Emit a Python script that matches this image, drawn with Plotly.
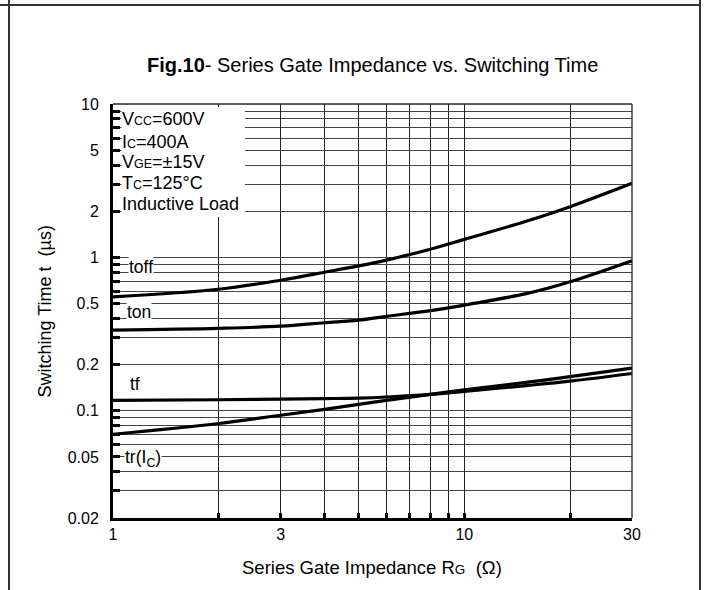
import math
import plotly.graph_objects as go

# ---- data ----
rg = [1, 2, 3, 4, 5, 6, 8, 10, 15, 20, 30]
t_off = [0.553, 0.62, 0.71, 0.80, 0.88, 0.96, 1.13, 1.31, 1.72, 2.14, 3.04]
t_on = [0.336, 0.345, 0.356, 0.375, 0.39, 0.413, 0.45, 0.489, 0.58, 0.693, 0.95]
t_f = [0.117, 0.118, 0.119, 0.120, 0.121, 0.123, 0.128, 0.134, 0.146, 0.156, 0.175]
t_r = [0.0703, 0.0826, 0.0935, 0.102, 0.110, 0.117, 0.128, 0.137, 0.153, 0.167, 0.190]

x_tickvals = [1, 3, 10, 30]
x_ticktext = ["1", "3", "10", "30"]
x_minor = [2, 4, 5, 6, 7, 8, 9, 20]
y_tickvals = [0.02, 0.05, 0.1, 0.2, 0.5, 1, 2, 5, 10]
y_ticktext = ["0.02", "0.05", "0.1", "0.2", "0.5", "1", "2", "5", "10"]
y_minor = [0.03, 0.04, 0.06, 0.07, 0.08, 0.09, 0.3, 0.4, 0.6, 0.7, 0.8, 0.9,
           3, 4, 6, 7, 8, 9]

conditions = [
    "V<span style='font-size:12.5px'>CC</span>=600V",
    "I<span style='font-size:12.5px'>C</span>=400A",
    "V<span style='font-size:12.5px'>GE</span>=±15V",
    "T<span style='font-size:12.5px'>C</span>=125°C",
    "Inductive Load",
]

FONT = "Arial, 'Liberation Sans', sans-serif"

# plot area geometry in pixels
L, R, T, B = 113, 632, 104, 518
W, H = R - L, B - T


def px(x):
    return (x - L) / W


def py(y):
    return (B - y) / H


fig = go.Figure()
for ys in (t_off, t_on, t_f, t_r):
    fig.add_trace(go.Scatter(x=rg, y=ys, mode="lines",
                             line=dict(color="black", width=3.2, shape="spline", smoothing=1.0),
                             showlegend=False, hoverinfo="skip"))

fig.update_layout(
    width=705, height=590,
    margin=dict(l=L, r=705 - R, t=T, b=590 - B),
    paper_bgcolor="white", plot_bgcolor="white",
    font=dict(family=FONT, color="black", size=16),
    showlegend=False,
)

fig.update_xaxes(
    type="log", range=[0, math.log10(30)],
    tickmode="array", tickvals=x_tickvals, ticktext=x_ticktext,
    ticks="inside", ticklen=5, tickwidth=2.5, tickcolor="black",
    minor=dict(tickmode="array", tickvals=x_minor, ticks="inside", ticklen=5,
               tickwidth=2.5, tickcolor="black", showgrid=True,
               gridcolor="#222", gridwidth=1.3),
    showline=True, linewidth=3, linecolor="black",
    showgrid=True, gridcolor="#222", gridwidth=1.3,
    zeroline=False, tickfont=dict(size=16),
    ticklabelstandoff=0,
)
fig.update_yaxes(
    type="log", range=[math.log10(0.02), 1],
    tickmode="array", tickvals=y_tickvals, ticktext=y_ticktext,
    ticks="inside", ticklen=7, tickwidth=2.5, tickcolor="black",
    minor=dict(tickmode="array", tickvals=y_minor, ticks="inside", ticklen=7,
               tickwidth=2.5, tickcolor="black", showgrid=True,
               gridcolor="#444", gridwidth=1.3),
    showline=True, linewidth=3, linecolor="black",
    showgrid=True, gridcolor="#444", gridwidth=1.3,
    zeroline=False, tickfont=dict(size=16),
    ticklabelstandoff=8,
)

shapes = [
    # top & right borders of plot area
    dict(type="line", xref="paper", yref="paper", x0=0, x1=1, y0=1, y1=1,
         line=dict(color="#222", width=1.3)),
    dict(type="line", xref="paper", yref="paper", x0=1, x1=1, y0=0, y1=1,
         line=dict(color="#222", width=1.3)),
    # white box behind the conditions text (hides the grid there)
    dict(type="rect", xref="paper", yref="paper", layer="above",
         x0=px(121.5), x1=px(245), y0=py(217), y1=py(107),
         fillcolor="white", line=dict(width=0)),
    # outer frame
    dict(type="line", xref="paper", yref="paper", x0=px(9), x1=px(9), y0=py(0), y1=py(590),
         line=dict(color="#333", width=2)),
    dict(type="line", xref="paper", yref="paper", x0=px(700), x1=px(700), y0=py(0), y1=py(590),
         line=dict(color="#333", width=2)),
    dict(type="line", xref="paper", yref="paper", x0=px(0), x1=px(700), y0=py(5), y1=py(5),
         line=dict(color="#333", width=2)),
]
fig.update_layout(shapes=shapes)

ann = []
cond_y = [119.3, 141.7, 161.7, 183.3, 204.3]
for txt, yy in zip(conditions, cond_y):
    ann.append(dict(text=txt, xref="paper", yref="paper", x=px(120), y=py(yy),
                    xanchor="left", yanchor="middle", showarrow=False,
                    font=dict(size=18, family=FONT)))

labels = [("toff", 128, 266.7), ("ton", 126, 312), ("tf", 129, 384),
          ("tr(I<sub>C</sub>)", 124, 458)]
for txt, xx, yy in labels:
    ann.append(dict(text=txt, xref="paper", yref="paper", x=px(xx), y=py(yy),
                    xanchor="left", yanchor="middle", showarrow=False,
                    bgcolor="white", borderpad=0,
                    font=dict(size=17.5, family=FONT)))

ann.append(dict(text="<b>Fig.10</b>- Series Gate Impedance vs. Switching Time",
                xref="paper", yref="paper", x=px(372.5), y=py(65),
                xanchor="center", yanchor="middle", showarrow=False,
                font=dict(size=20, family=FONT)))
ann.append(dict(text="Series Gate Impedance R<span style='font-size:13.5px'>G</span>\u00a0\u00a0(Ω)",
                xref="paper", yref="paper", x=px(371.5), y=py(567),
                xanchor="center", yanchor="middle", showarrow=False,
                font=dict(size=18.5, family=FONT)))
ann.append(dict(text="Switching Time t\u00a0\u00a0(µs)",
                xref="paper", yref="paper", x=px(44), y=py(311.5),
                xanchor="center", yanchor="middle", showarrow=False, textangle=-90,
                font=dict(size=18, family=FONT)))
fig.update_layout(annotations=ann)

fig.write_html("out.html",
               config={"displayModeBar": False},
               post_script="document.body.style.margin='0';document.body.style.overflow='hidden';")
